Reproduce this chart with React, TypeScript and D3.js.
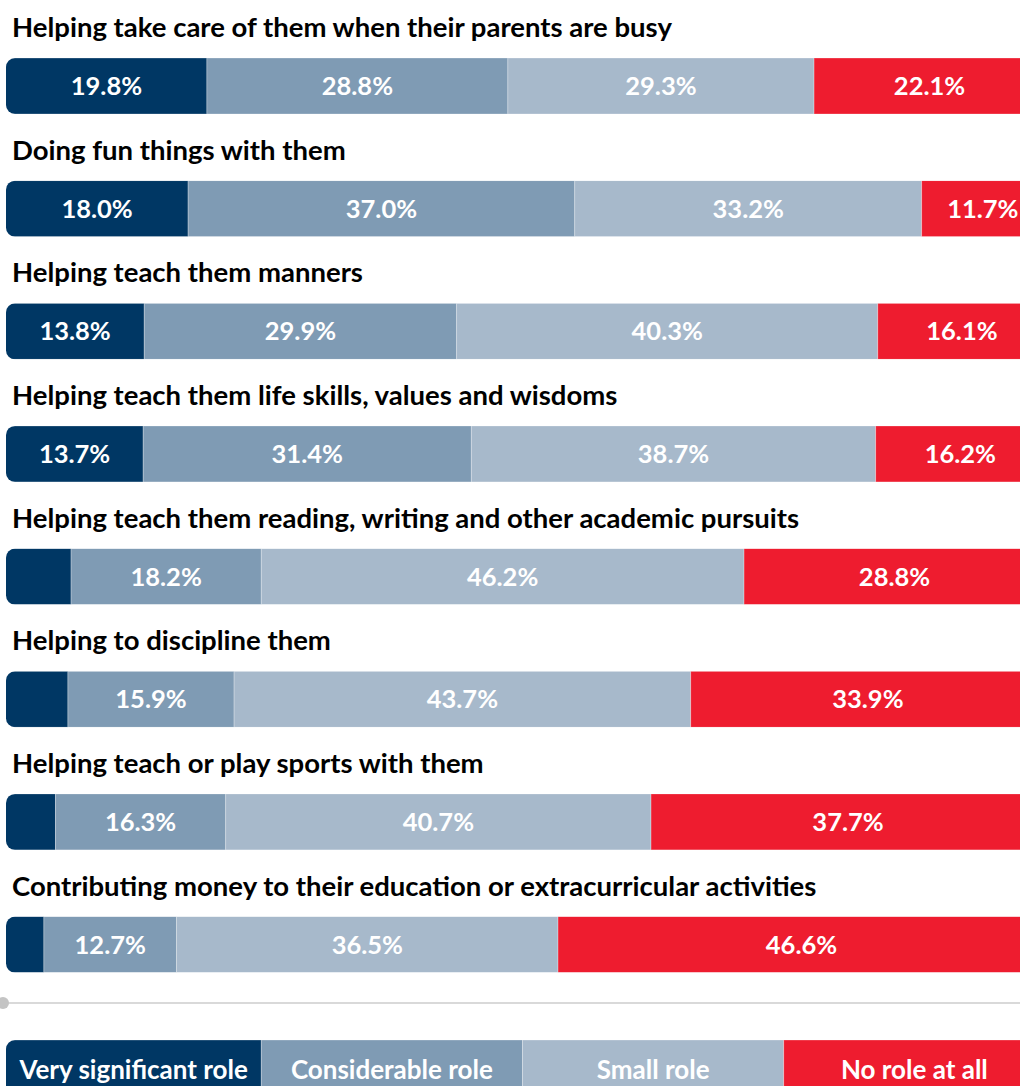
import React from "react";
import * as d3 from "d3";

const categories = [
  "Helping take care of them when their parents are busy",
  "Doing fun things with them",
  "Helping teach them manners",
  "Helping teach them life skills, values and wisdoms",
  "Helping teach them reading, writing and other academic pursuits",
  "Helping to discipline them",
  "Helping teach or play sports with them",
  "Contributing money to their education or extracurricular activities",
];
const seriesNames = ["Very significant role", "Considerable role", "Small role", "No role at all"];
const verySignificant = [19.8, 18.0, 13.8, 13.7, 6.8, 6.5, 5.3, 4.2];
const considerable = [28.8, 37.0, 29.9, 31.4, 18.2, 15.9, 16.3, 12.7];
const small = [29.3, 33.2, 40.3, 38.7, 46.2, 43.7, 40.7, 36.5];
const noRole = [22.1, 11.7, 16.1, 16.2, 28.8, 33.9, 37.7, 46.6];
const showLabelMin = 10;

const colors = ["#003764", "#7f9bb4", "#a7b9cb", "#ee1c2f"];

export default function App() {
  const W = 1020;
  const H = 1086;
  const x = d3.scaleLinear().domain([0, 100]).range([0, 1045]);
  const y = d3.scaleBand<string>().domain(categories).range([58, 58 + 8 * 122.65]);
  const barH = 56;
  const barX0 = 6;
  const font = "Lato, 'Open Sans', sans-serif";

  const rows = categories.map((c, i) => {
    const vals = [verySignificant[i], considerable[i], small[i], noRole[i]];
    const stack: { x0: number; x1: number; v: number; k: number }[] = [];
    let acc = 0;
    vals.forEach((v, k) => {
      stack.push({ x0: acc, x1: acc + v, v, k });
      acc += v;
    });
    return { c, i, stack };
  });

  const legendW = 1045 / 4;

  return (
    <div style={{ position: "absolute", left: 0, top: 0 }}>
      <svg width={W} height={H} style={{ display: "block" }}>
        <defs>
          {rows.map((r) => (
            <clipPath id={`clip${r.i}`} key={r.i}>
              <rect x={barX0} y={y(r.c)!} width={1100} height={barH} rx={9} ry={9} />
            </clipPath>
          ))}
          <clipPath id="clipLegend">
            <rect x={barX0} y={1040} width={1100} height={80} rx={9} ry={9} />
          </clipPath>
        </defs>
        <rect width={W} height={H} fill="#fff" />
        {rows.map((r) => {
          const top = y(r.c)!;
          return (
            <g key={r.i}>
              <text x={12} y={top - 21} fontFamily={font} fontWeight={700} fontSize={27.5} fill="#000">
                {r.c}
              </text>
              <g clipPath={`url(#clip${r.i})`}>
                {r.stack.map((s) => (
                  <rect
                    key={s.k}
                    x={x(s.x0)}
                    y={top}
                    width={x(s.x1) - x(s.x0)}
                    height={barH}
                    fill={colors[s.k]}
                    stroke="#ffffff"
                    strokeOpacity={0.35}
                    strokeWidth={0.8}
                  />
                ))}
              </g>
              {r.stack
                .filter((s) => s.v >= showLabelMin)
                .map((s) => {
                  const a = Math.max(x(s.x0), barX0);
                  const b = x(s.x1);
                  return (
                    <text
                      key={s.k}
                      x={(a + b) / 2}
                      y={top + 37}
                      textAnchor="middle"
                      fontFamily={font}
                      fontWeight={700}
                      fontSize={25.5}
                      fill="#fff"
                    >
                      {s.v.toFixed(1)}%
                    </text>
                  );
                })}
            </g>
          );
        })}
        <line x1={0} x2={W} y1={1003} y2={1003} stroke="#cccccc" strokeWidth={1.5} />
        <circle cx={3} cy={1003} r={6} fill="#c4c4c4" />
        <g clipPath="url(#clipLegend)">
          {seriesNames.map((n, k) => (
            <rect
              key={n}
              x={k * legendW}
              y={1040}
              width={legendW}
              height={60}
              fill={colors[k]}
              stroke="#fff"
              strokeOpacity={0.35}
              strokeWidth={0.8}
            />
          ))}
        </g>
        {seriesNames.map((n, k) => {
          const a = Math.max(k * legendW, barX0);
          const b = (k + 1) * legendW;
          return (
            <text
              key={n}
              x={(a + b) / 2}
              y={1079}
              textAnchor="middle"
              fontFamily={font}
              fontWeight={700}
              fontSize={26}
              fill="#fff"
            >
              {n}
            </text>
          );
        })}
      </svg>
    </div>
  );
}
